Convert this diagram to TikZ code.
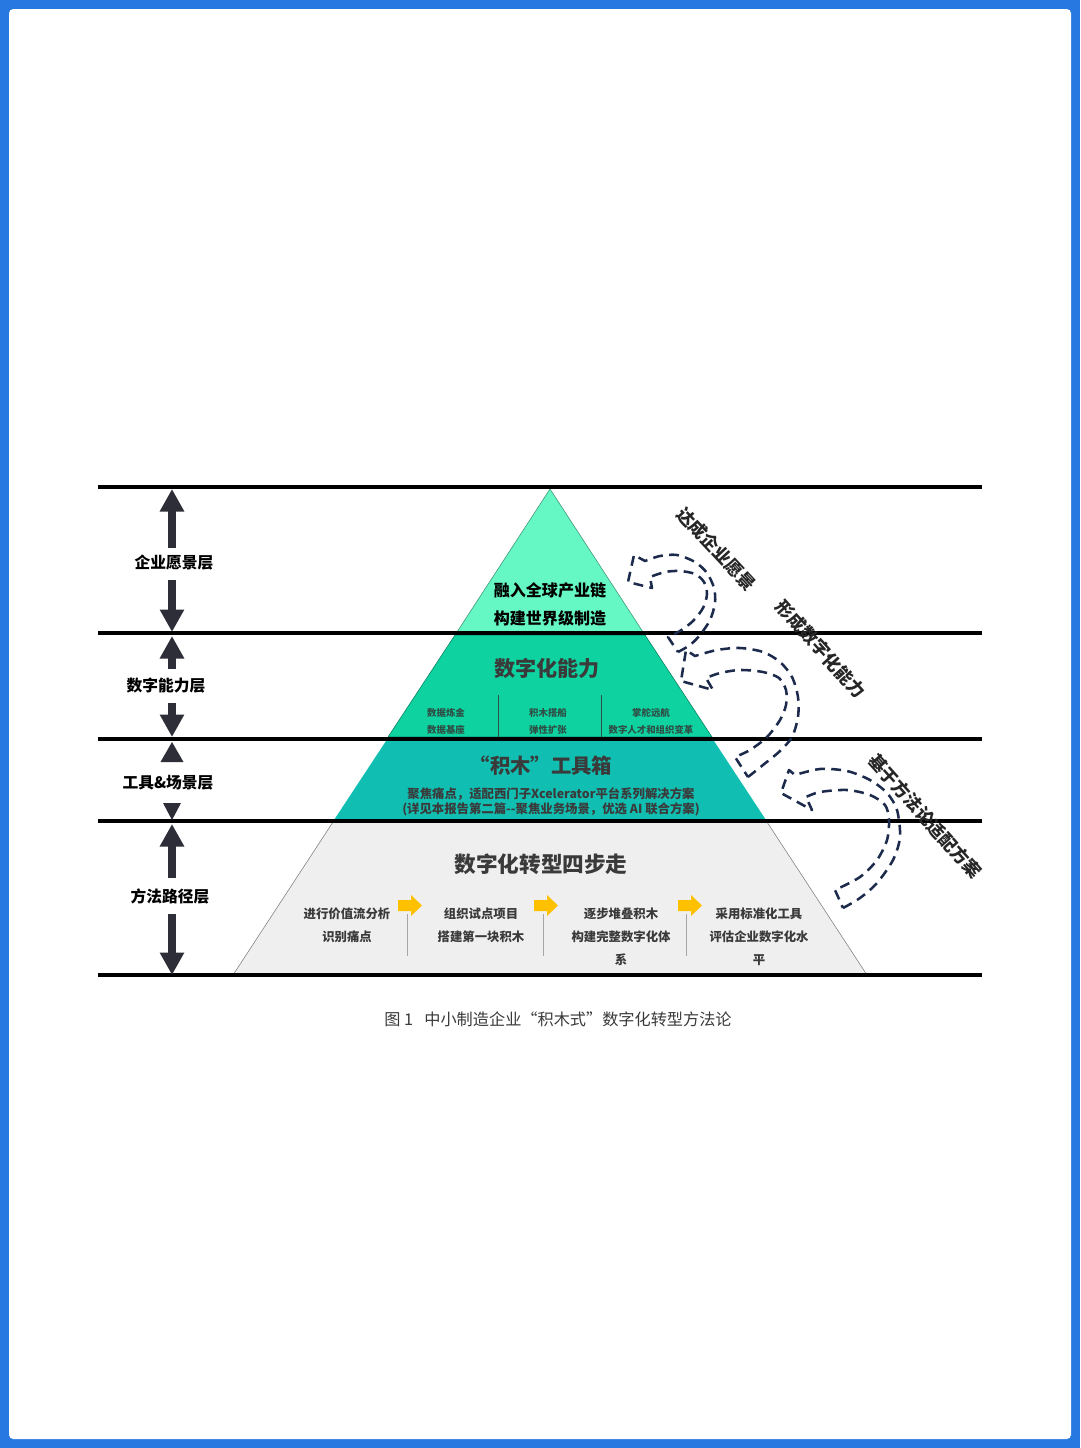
\documentclass[tikz,border=0pt]{standalone}
\usepackage{fontspec}
\setmainfont{Noto Sans CJK SC}
\usepackage{tikz}
\usetikzlibrary{arrows.meta}

\definecolor{frameblue}{HTML}{2878E2}
\definecolor{peakmint}{HTML}{66F8C4}
\definecolor{capjade}{HTML}{0ED3A0}
\definecolor{toolteal}{HTML}{10BFB2}
\definecolor{stepgray}{HTML}{EFEFEF}
\definecolor{inkgray}{HTML}{3A3A3A}
\definecolor{smallink}{HTML}{2E4E46}
\definecolor{loopnavy}{HTML}{1C2B4B}
\definecolor{amber}{HTML}{FFC000}
\definecolor{liftgray}{HTML}{2E2E38}

\tikzset{
  tierlabel/.style={inner sep=0pt, text=black, font=\bfseries\fontsize{11.2}{12}\selectfont},
  peak/.style={inner sep=0pt, text=black, font=\bfseries\fontsize{11.4}{12}\selectfont},
  tier/.style={inner sep=0pt, text=inkgray, font=\bfseries\fontsize{15}{16}\selectfont},
  minor/.style={inner sep=0pt, text=smallink, font=\bfseries\fontsize{6.7}{7}\selectfont},
  stepnote/.style={inner sep=0pt, text=inkgray, font=\bfseries\fontsize{8.8}{9}\selectfont},
  looplabel/.style={inner sep=0pt, text=black!85, font=\bfseries\fontsize{12.5}{13}\selectfont},
  loopline/.style={loopnavy, line width=1.8pt, dash pattern=on 7pt off 4.5pt, line join=round},
  lift/.style={liftgray, line width=5.7pt, -{Triangle[width=16.4pt,length=16pt]}}
}

\begin{document}
\begin{tikzpicture}[x=0.025cm,y=-0.025cm]
\useasboundingbox (0,0) rectangle (1080,1448);
\fill[frameblue] (0,0) rectangle (1080,1448);
\fill[white, rounded corners=3] (9,9) rectangle (1071,1439);

\filldraw[fill=peakmint, draw=peakmint!60!black, line width=0.4pt] (550,489) -- (643,632) -- (457,632) -- cycle;
\filldraw[fill=capjade, draw=capjade!60!black, line width=0.4pt] (455,635) -- (645,635) -- (712,737) -- (388,737) -- cycle;
\fill[toolteal] (386,741) -- (714,741) -- (766,820) -- (334,820) -- cycle;
\filldraw[fill=stepgray, draw=gray, line width=0.4pt] (333,822) -- (767,822) -- (867,975) -- (233,975) -- cycle;

\foreach \y in {487,633,739,821,975}
  \draw[line width=2.6pt] (98,\y) -- (982,\y);

\foreach \tip/\tail in {489/548,636/669,824/878,632/580,737/703,975/914}
  \draw[lift] (172,\tail) -- (172,\tip);
\fill[liftgray] (172,742) -- (183.5,762) -- (160.5,762) -- cycle;
\fill[liftgray] (172,820) -- (181,803) -- (163,803) -- cycle;

\node[tierlabel] (vision) at (174,563) {企业愿景层};
\node[tierlabel] (ability) at (166,686) {数字能力层};
\node[tierlabel] (toolbox) at (168,783) {工具\&场景层};
\node[tierlabel] (method) at (170,896) {方法路径层};

\node[peak] (global) at (550,590) {融入全球产业链};
\node[peak] (world) at (550,618) {构建世界级制造};

\node[tier] (cap) at (547,668) {数字化能力};
\foreach \x in {498,601}
  \draw[smallink, line width=0.5pt] (\x,695) -- (\x,737);
\node[minor] (cap-a1) at (446,713) {数据炼金};
\node[minor] (cap-a2) at (446,730) {数据基座};
\node[minor] (cap-b1) at (548,713) {积木搭船};
\node[minor] (cap-b2) at (548,730) {弹性扩张};
\node[minor] (cap-c1) at (651,713) {掌舵远航};
\node[minor] (cap-c2) at (651,730) {数字人才和组织变革};

\node[tier, font=\bfseries\fontsize{14.5}{15}\selectfont] (blocks) at (541,766) {“积木”工具箱};
\node[stepnote] (blocks-1) at (551,794) {聚焦痛点，适配西门子Xcelerator平台系列解决方案};
\node[stepnote] (blocks-2) at (551,809) {(详见本报告第二篇-{}-聚焦业务场景，优选 AI 联合方案)};

\node[tier, font=\bfseries\fontsize{15.4}{16}\selectfont] (steps) at (541,864) {数字化转型四步走};
\foreach \x in {398,534,678}
  \fill[amber] (\x,900) -- ++(13,0) -- ++(0,-5) -- ++(11,10.5) -- ++(-11,10.5) -- ++(0,-5) -- ++(-13,0) -- cycle;
\foreach \x in {407,543,686}
  \draw[gray!70, line width=0.5pt] (\x,914) -- (\x,956);
\node[stepnote] (step1-a) at (347,914) {进行价值流分析};
\node[stepnote] (step1-b) at (347,937) {识别痛点};
\node[stepnote] (step2-a) at (481,914) {组织试点项目};
\node[stepnote] (step2-b) at (481,937) {搭建第一块积木};
\node[stepnote] (step3-a) at (621,914) {逐步堆叠积木};
\node[stepnote] (step3-b) at (621,937) {构建完整数字化体};
\node[stepnote] (step3-c) at (621,960) {系};
\node[stepnote] (step4-a) at (759,914) {采用标准化工具};
\node[stepnote] (step4-b) at (759,937) {评估企业数字化水};
\node[stepnote] (step4-c) at (759,960) {平};

\draw[loopline] plot[smooth] coordinates {(678,652) (690,645) (700,635) (710,620) (715,603) (714,588) (707,573) (695,562) (677,555) (660,556) (645,561)}
  -- (634,555) -- (628,582) -- (652,588)
  -- plot[smooth] coordinates {(650,577) (665,572) (680,571) (695,574) (704,582) (707,594) (703,608) (693,621) (680,631) (668,637)} -- cycle;
\draw[loopline] plot[smooth] coordinates {(748,777) (763,765) (780,751) (792,737) (798,717) (798,697) (792,677) (780,662) (763,652) (740,648) (717,650) (695,656)}
  -- (686,650) -- (681,681) -- (713,690)
  -- plot[smooth] coordinates {(706,678) (720,673) (740,670) (763,672) (779,678) (786,690) (786,705) (780,720) (767,737) (750,750) (735,757)} -- cycle;
\draw[loopline] plot[smooth] coordinates {(843,908) (860,898) (877,883) (893,860) (900,837) (897,810) (887,793) (870,780) (847,771) (820,769) (795,775)}
  -- (789,770) -- (781,793) -- (812,810)
  -- plot[smooth] coordinates {(806,797) (820,792) (847,790) (870,795) (885,805) (889,820) (887,840) (877,860) (860,877) (835,890)} -- cycle;

\node[looplabel, rotate=-47] (goal) at (716,549) {达成企业愿景};
\node[looplabel, rotate=-48] (form) at (821,649) {形成数字化能力};
\node[looplabel, rotate=-48] (adapt) at (925,816) {基于方法论适配方案};

\node[inner sep=0pt, text=inkgray, font=\fontsize{11.5}{12}\selectfont] (caption) at (558,1019) {图 1\hspace{0.7em}中小制造企业“积木式”数字化转型方法论};
\end{tikzpicture}
\end{document}
